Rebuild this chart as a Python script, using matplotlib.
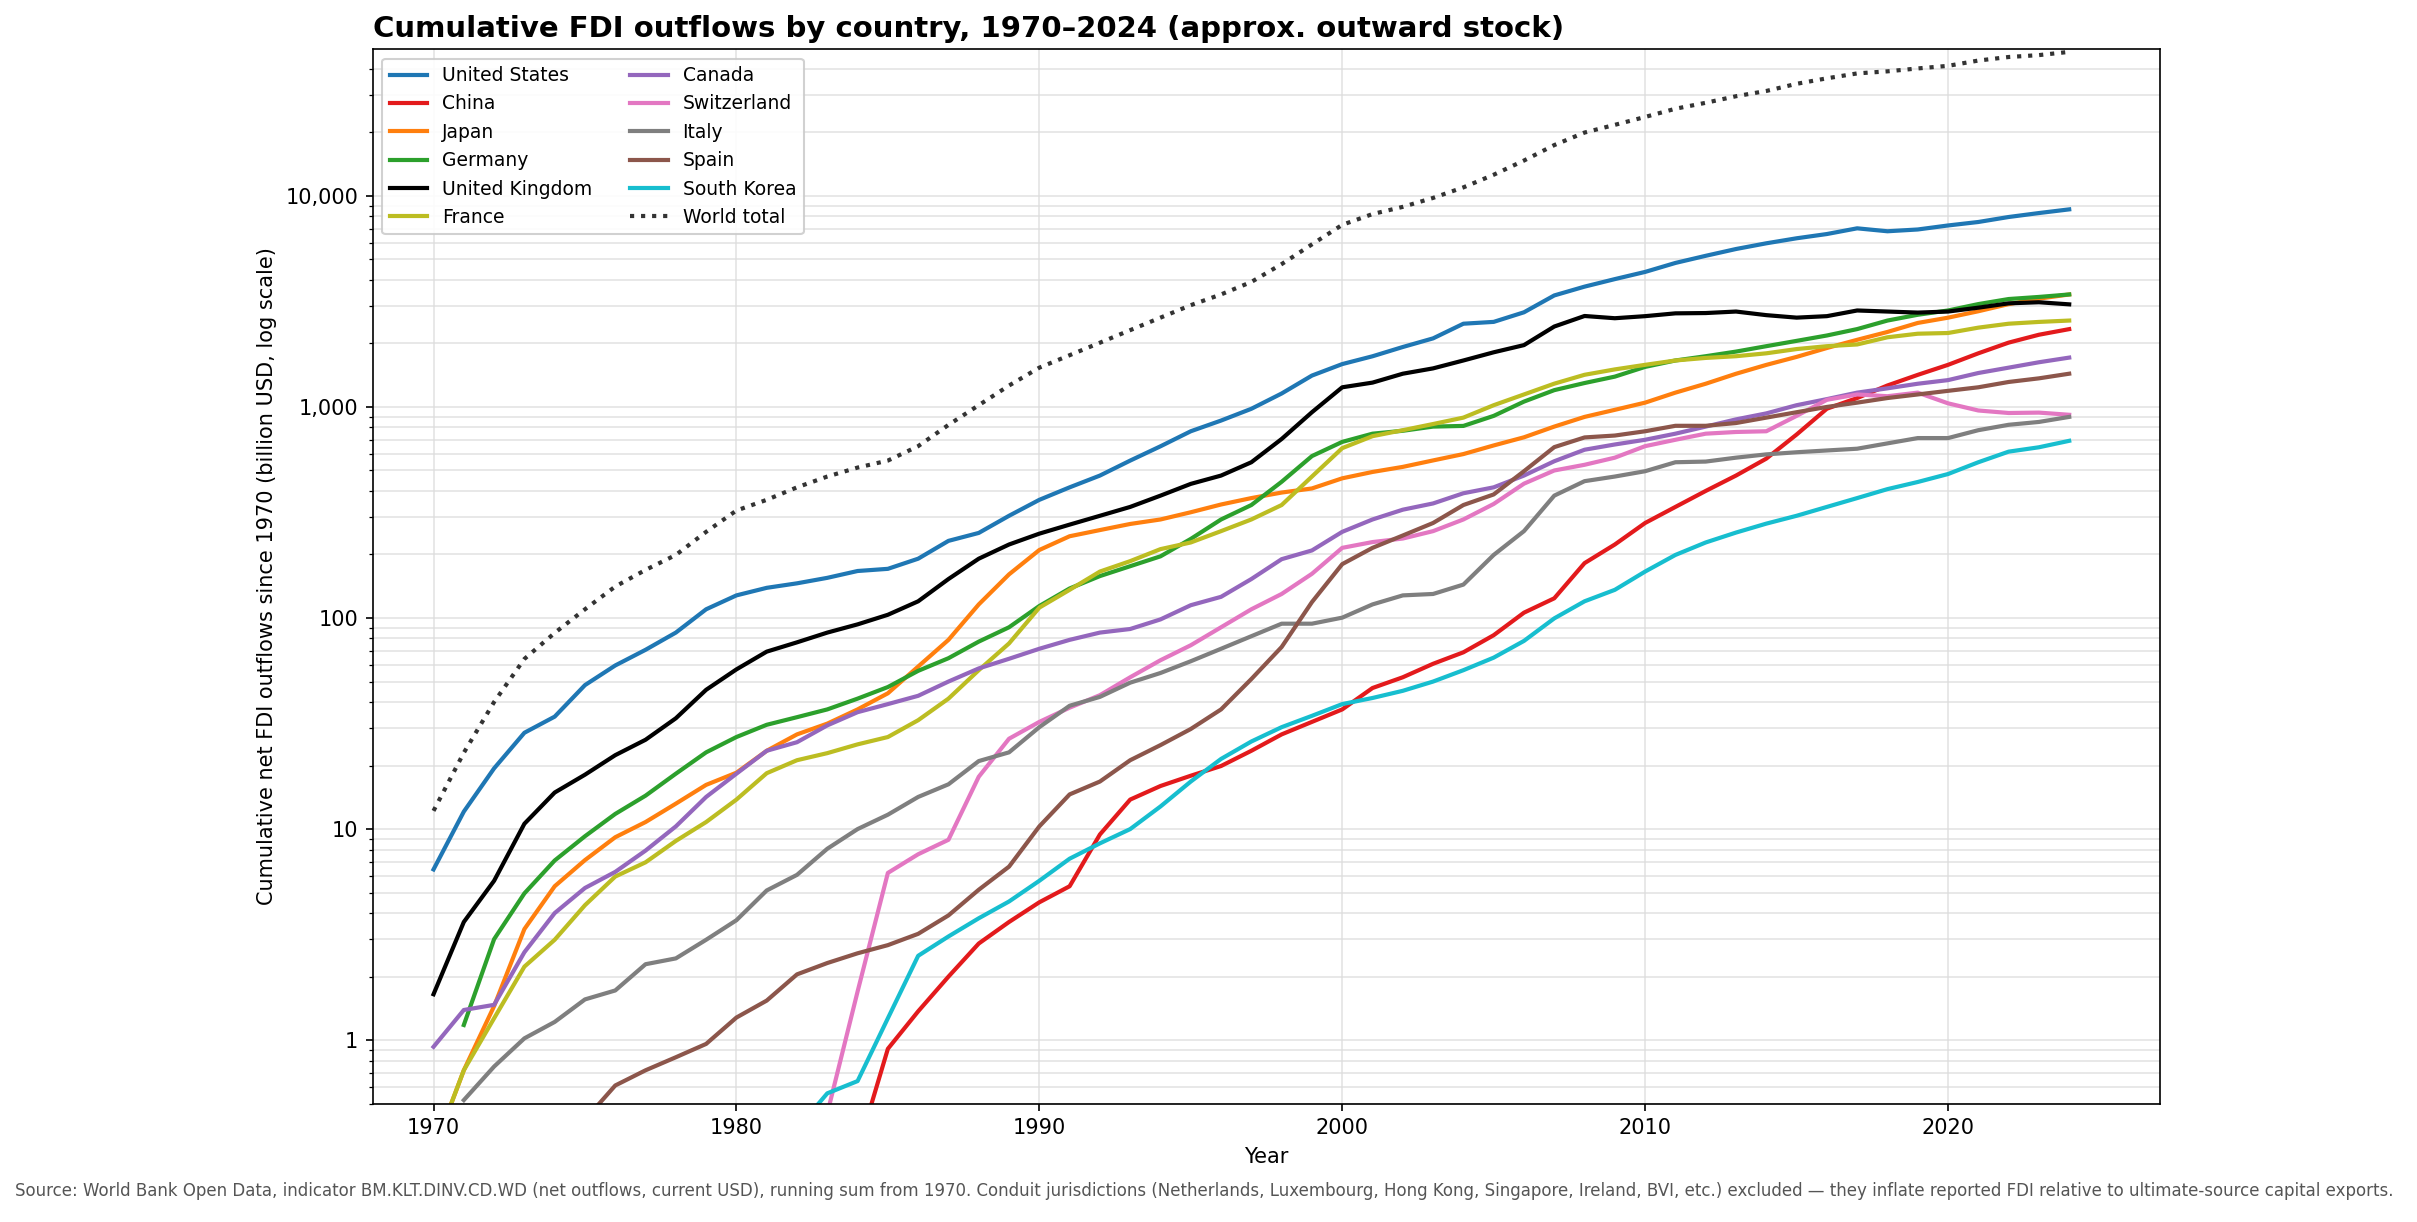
import numpy as np
import matplotlib
matplotlib.use("Agg")
import matplotlib.pyplot as plt
from matplotlib.ticker import FuncFormatter, LogLocator, NullFormatter

nan = np.nan
years = list(range(1970, 2025))

united_states = [6.44, 12.1, 19.4, 28.6, 34.1, 48.1, 59.6, 70.7, 85.3, 110, 128, 139, 146, 155, 167, 171, 191, 232, 253, 305,
                 363, 416, 473, 557, 651, 767, 862, 980, 1158, 1408, 1596, 1738, 1923, 2113, 2479, 2529, 2808, 3375, 3715, 4033,
                 4362, 4811, 5200, 5600, 5960, 6295, 6594, 7018, 6796, 6930, 7240, 7520, 7940, 8290, 8630]
china = [nan] * 14 + [0.3, 0.91, 1.37, 2.0, 2.87, 3.63, 4.5, 5.36, 9.43, 13.8, 16.0, 17.9, 19.9, 23.5, 28.1, 32.2, 36.9, 46.6,
                      52.4, 60.7, 68.8, 82.9, 106, 124, 182, 223, 282, 336, 400, 473, 569, 740, 981, 1102, 1264, 1419, 1583,
                      1795, 2017, 2198, 2337]
japan = [0.3, 0.72, 1.45, 3.36, 5.36, 7.13, 9.15, 10.8, 13.2, 16.2, 18.5, 23.5, 28.1, 31.6, 36.9, 44, 58.9, 78.8, 116, 161,
         210, 244, 261, 279, 293, 317, 345, 370, 393, 411, 459, 492, 520, 558, 598, 657, 718, 807, 897, 969,
         1048, 1169, 1288, 1436, 1582, 1726, 1902, 2080, 2266, 2500, 2648, 2840, 3070, 3258, 3411]
germany = [nan, 1.18, 3.01, 4.96, 7.1, 9.25, 11.8, 14.4, 18.3, 23.1, 27.3, 31.2, 33.9, 36.9, 41.5, 47.1, 56.2, 64.5, 77.3, 90.4,
           114, 138, 158, 176, 196, 237, 293, 343, 442, 585, 683, 747, 771, 807, 813, 907, 1060, 1201, 1298, 1392,
           1548, 1660, 1739, 1829, 1940, 2056, 2180, 2338, 2566, 2733, 2864, 3071, 3245, 3320, 3411]
united_kingdom = [1.65, 3.63, 5.69, 10.6, 14.9, 18.1, 22.4, 26.5, 33.5, 45.7, 57.1, 69.3, 76.7, 85.3, 93.3, 103.6, 120, 153, 191, 223,
                  251, 277, 305, 336, 380, 432, 473, 547, 705, 944, 1239, 1304, 1437, 1523, 1660, 1815, 1963, 2404, 2697, 2632,
                  2692, 2776, 2785, 2831, 2722, 2649, 2692, 2864, 2831, 2799, 2831, 2953, 3096, 3133, 3062]
france = [0.3, 0.72, 1.27, 2.23, 2.99, 4.36, 5.96, 6.96, 8.79, 10.8, 13.8, 18.4, 21.2, 22.9, 25.2, 27.3, 32.8, 41.5, 56.6, 75.8,
          112, 136, 166, 186, 212, 228, 258, 293, 343, 468, 638, 727, 776, 830, 890, 1019, 1146, 1289, 1420, 1506,
          1583, 1660, 1707, 1739, 1795, 1880, 1940, 1977, 2138, 2223, 2240, 2375, 2479, 2528, 2566]
canada = [0.93, 1.39, 1.47, 2.61, 4.0, 5.26, 6.27, 7.91, 10.3, 14.2, 18.3, 23.5, 25.8, 31, 35.8, 39.1, 42.8, 50, 57.7, 64.1,
          71.5, 78.8, 85.3, 88.7, 98.5, 115, 126, 153, 190, 209, 256, 293, 326, 349, 390, 416, 473, 553, 627, 664,
          699, 747, 807, 873, 932, 1019, 1089, 1169, 1225, 1288, 1340, 1448, 1535, 1628, 1713]
switzerland = [nan] * 13 + [0.45, 1.7, 6.2, 7.6, 8.9, 17.7, 26.8, 32.2, 37.6, 43.1, 52.4, 63.1, 74.3, 90.4, 110, 130, 162, 215,
                            229, 238, 258, 293, 347, 433, 500, 532, 575, 652, 699, 747, 761, 767, 907, 1081, 1146, 1124, 1169,
                            1040, 962, 936, 940, 918]
italy = [nan, 0.52, 0.75, 1.02, 1.22, 1.56, 1.72, 2.29, 2.44, 2.99, 3.7, 5.12, 6.07, 8.07, 10, 11.7, 14.2, 16.3, 21, 23.1,
         30.4, 38.4, 42.3, 49.4, 54.9, 62.4, 71.5, 82, 94, 94, 100.4, 116, 128, 130, 144, 199, 258, 380, 445, 468,
         496, 547, 551, 575, 596, 610, 622, 634, 672, 712, 712, 776, 823, 849, 897]
spain = [nan] * 5 + [0.42, 0.61, 0.72, 0.83, 0.96, 1.28, 1.54, 2.05, 2.32, 2.58, 2.82, 3.19, 3.9, 5.16, 6.64, 10.3, 14.6, 16.8,
                     21.2, 25, 29.8, 36.9, 51.4, 72.9, 119, 180, 215, 246, 282, 343, 385, 496, 645, 717, 732, 767, 814, 814,
                     839, 890, 944, 1000, 1048, 1102, 1146, 1192, 1239, 1313, 1366, 1437]
south_korea = [nan] * 12 + [0.38, 0.56, 0.64, 1.27, 2.51, 3.1, 3.78, 4.54, 5.69, 7.24, 8.56, 10, 12.8, 16.8, 21.5, 26, 30.4,
                            34.4, 39.1, 41.8, 45.2, 50, 56.6, 64.9, 77.9, 99.6, 120, 136, 166, 199, 228, 254, 280, 305, 336,
                            370, 408, 441, 481, 547, 614, 644, 691]
world_total = [12.2, 23, 40, 64, 85, 110, 141, 169, 199, 256, 323, 363, 416, 468, 516, 557, 652, 822, 1019, 1263,
               1535, 1758, 2015, 2311, 2649, 3035, 3412, 3910, 4750, 5890, 7290, 8200, 8870, 9780, 10970, 12590, 14700,
               17400, 19950, 21700, 23650, 25870, 27600, 29650, 31400, 33950, 36050, 38030, 38900, 40150, 41300, 43760,
               45480, 46430, 48100]

series = [
    ("United States", united_states, "#1f77b4", "-"),
    ("China", china, "#e31a1c", "-"),
    ("Japan", japan, "#ff7f0e", "-"),
    ("Germany", germany, "#2ca02c", "-"),
    ("United Kingdom", united_kingdom, "#000000", "-"),
    ("France", france, "#bcbd22", "-"),
    ("Canada", canada, "#9467bd", "-"),
    ("Switzerland", switzerland, "#e377c2", "-"),
    ("Italy", italy, "#7f7f7f", "-"),
    ("Spain", spain, "#8c564b", "-"),
    ("South Korea", south_korea, "#17becf", "-"),
    ("World total", world_total, "#333333", ":"),
]

fig = plt.figure(figsize=(2417 / 150, 1222 / 150), dpi=150)
ax = fig.add_axes([0.1543, 0.0968, 0.7394, 0.8629])

for name, vals, color, ls in series:
    ax.plot(years, vals, color=color, linestyle=ls, linewidth=2.0, label=name)

ax.set_yscale("log")
ax.set_ylim(0.5, 49500)
ax.set_xlim(1968, 2027)
ax.set_xticks([1970, 1980, 1990, 2000, 2010, 2020])
ax.yaxis.set_major_locator(LogLocator(base=10))
ax.yaxis.set_major_formatter(FuncFormatter(lambda v, p: f"{v:,.0f}"))
ax.yaxis.set_minor_formatter(NullFormatter())

ax.grid(True, which="major", color="#dddddd", linewidth=0.8, alpha=0.8)
ax.grid(True, which="minor", axis="y", color="#dddddd", linewidth=0.8, alpha=0.8)
ax.set_axisbelow(True)

ax.set_xlabel("Year", fontsize=10)
ax.set_ylabel("Cumulative net FDI outflows since 1970 (billion USD, log scale)", fontsize=10)
ax.set_title("Cumulative FDI outflows by country, 1970\u20132024 (approx. outward stock)",
             loc="left", fontsize=14, fontweight="bold")

ax.legend(loc="upper left", ncol=2, fontsize=9, framealpha=0.9)

fig.text(0.006, 0.018,
         "Source: World Bank Open Data, indicator BM.KLT.DINV.CD.WD (net outflows, current USD), running sum from 1970. "
         "Conduit jurisdictions (Netherlands, Luxembourg, Hong Kong, Singapore, Ireland, BVI, etc.) excluded \u2014 "
         "they inflate reported FDI relative to ultimate-source capital exports.",
         fontsize=8, color="#555555", ha="left", va="bottom")

fig.savefig("out.png", dpi=150)
